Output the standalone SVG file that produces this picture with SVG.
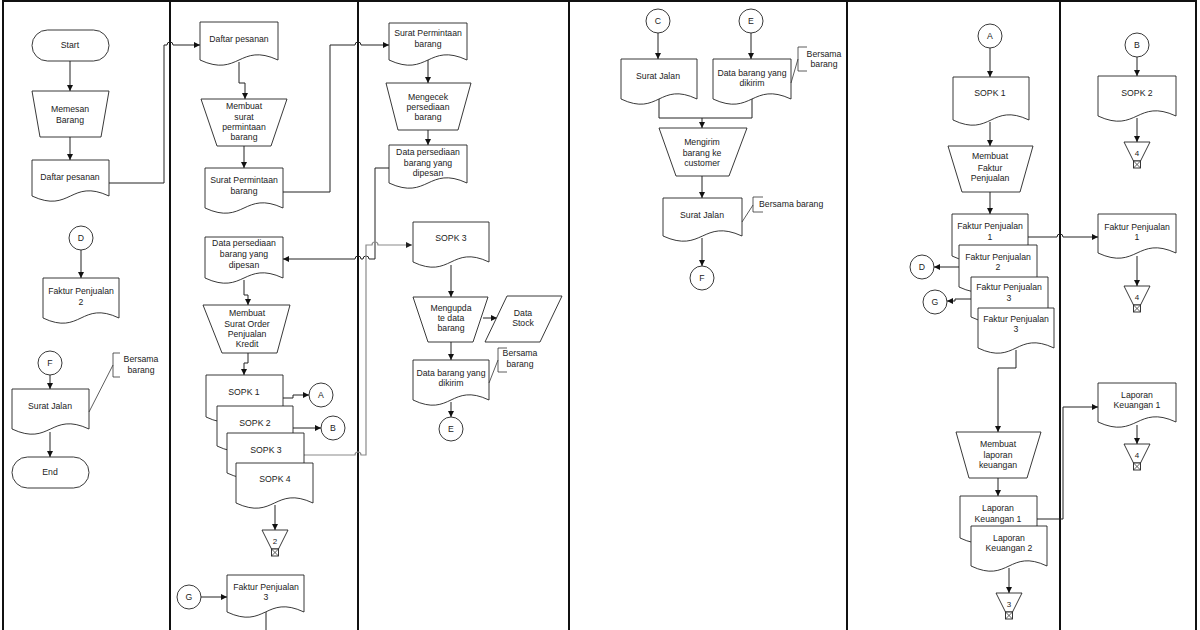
<svg xmlns="http://www.w3.org/2000/svg" width="1200" height="630" viewBox="0 0 1200 630">
<style>
.lane{stroke:#111;stroke-width:2;fill:none}
.sh{fill:#fff;stroke:#222;stroke-width:0.9}
.c{fill:none;stroke:#222;stroke-width:1}
.g{fill:none;stroke:#8a8a8a;stroke-width:1.2}
.a{marker-end:url(#ah)}
.ag{marker-end:url(#ahg)}
.ann{fill:none;stroke:#333;stroke-width:0.8}
text{font-family:"Liberation Sans",Arial,sans-serif;font-size:8.7px;fill:#222;text-anchor:middle;dominant-baseline:central}
.l{text-anchor:start}
.n{font-size:8px}
</style>
<defs>
<marker id="ah" markerUnits="userSpaceOnUse" markerWidth="7" markerHeight="7" refX="6" refY="3" orient="auto"><path d="M0,0 L6,3 L0,6 z" fill="#111"/></marker>
<marker id="ahg" markerUnits="userSpaceOnUse" markerWidth="7" markerHeight="7" refX="6" refY="3" orient="auto"><path d="M0,0 L6,3 L0,6 z" fill="#222"/></marker>
</defs>
<rect width="1200" height="630" fill="#fff"/>
<g id="lanes">
<path class="lane" d="M3,630 V1 H1196 V630 M170,1 V630 M358,1 V630 M569,1 V630 M847,1 V630 M1060,1 V630"/>
</g>
<g id="connectors">
<path class="c a" d="M70,61 V91"/>
<path class="c a" d="M70,137 V160"/>
<path class="c a" d="M109,183 H164 V45 H167 a3,3 0 0 1 6,0 H200"/>
<path class="c a" d="M81,250 V278"/>
<path class="c a" d="M50,375 V389"/>
<path class="c a" d="M50,432 V457"/>
<path class="c a" d="M239,62 V83 H245 V99"/>
<path class="c a" d="M244,146 V168"/>
<path class="c a" d="M283,192 H330 V45 H355 a3,3 0 0 1 6,0 H389"/>
<path class="c a" d="M389,168 H375 V259 H369 a3,3 0 0 0 -6,0 H361 a3,3 0 0 0 -6,0 H283"/>
<path class="g ag" d="M304,455 H355 a3,3 0 0 1 6,0 H366 V245 H372 a3,3 0 0 1 6,0 H412"/>
<path class="c a" d="M244,280 V295 H248 V305"/>
<path class="c a" d="M248,353 V363 H244 V375"/>
<path class="c a" d="M283,398 H293 V395 H309"/>
<path class="c a" d="M293,428 H321"/>
<path class="c a" d="M275,505 V530"/>
<path class="c a" d="M201,597 H227"/>
<path class="c" d="M266,612 V630"/>
<path class="c a" d="M428,60 V83"/>
<path class="c a" d="M428,130 V145"/>
<path class="c a" d="M451,265 V297"/>
<path class="c a" d="M483,318 H497"/>
<path class="c a" d="M451,342 V360"/>
<path class="c a" d="M451,402 V417"/>
<path class="c a" d="M658,33 V59"/>
<path class="c a" d="M751,33 V59"/>
<path class="c" d="M659,98 V118 H752 V98"/>
<path class="c a" d="M702,118 V128"/>
<path class="c a" d="M702,176 V198"/>
<path class="c a" d="M702,238 V266"/>
<path class="c a" d="M990,48 V77"/>
<path class="c a" d="M990,122 V146"/>
<path class="c a" d="M990,192 V214"/>
<path class="c a" d="M1028,237 H1057 a3,3 0 0 1 6,0 H1098"/>
<path class="c a" d="M959,267 H934"/>
<path class="c a" d="M971,299 H955 V301 H947"/>
<path class="c a" d="M1016,350 V368 H998 V432"/>
<path class="c a" d="M998,478 V496"/>
<path class="c a" d="M1009,568 V593"/>
<path class="c a" d="M1037,519 H1063 V407 H1098"/>
<path class="c a" d="M1137,57 V76"/>
<path class="c a" d="M1137,118 V142"/>
<path class="c a" d="M1137,256 V286"/>
<path class="c a" d="M1137,425 V444"/>
</g>
<g id="start"><rect class="sh" x="32" y="30" width="77" height="31" rx="15.5"/><text x="70" y="45">Start</text></g>
<g id="memesan"><polygon class="sh" points="32,91 109,91 101,137 40,137"/><text x="70" y="109">Memesan</text><text x="70" y="120">Barang</text></g>
<g id="daftar1"><path class="sh" d="M32,160 H109 V196 C70.5,178 70.5,214 32,196 Z"/><text x="70" y="177">Daftar pesanan</text></g>
<g id="d1"><circle class="sh" cx="81" cy="238" r="12"/><text x="81" y="238">D</text></g>
<g id="fp2a"><path class="sh" d="M43,278 H119 V318 C81,300 81,336 43,318 Z"/><text x="81" y="291">Faktur Penjualan</text><text x="81" y="302">2</text></g>
<g id="f1"><circle class="sh" cx="50" cy="363" r="12"/><text x="50" y="363">F</text></g>
<g id="sj1"><path class="sh" d="M12,389 H89 V429 C50.5,411 50.5,447 12,429 Z"/><text x="50" y="406">Surat Jalan</text></g>
<g id="ann1"><path class="ann" d="M120,353 H113 V377 H120 M113,365 L89,412"/><text x="141" y="359">Bersama</text><text x="141" y="370">barang</text></g>
<g id="end"><rect class="sh" x="12" y="457" width="77" height="31" rx="15.5"/><text x="50" y="472">End</text></g>

<g id="daftar2"><path class="sh" d="M200,22 H278 V60 C239,42 239,78 200,60 Z"/><text x="239" y="39">Daftar pesanan</text></g>
<g id="membuatsurat"><polygon class="sh" points="201,99 287,99 271,146 217,146"/><text x="244" y="106">Membuat</text><text x="244" y="117">surat</text><text x="244" y="127">permintaan</text><text x="244" y="137">barang</text></g>
<g id="spb2"><path class="sh" d="M205,168 H283 V208 C244,190 244,226 205,208 Z"/><text x="244" y="180">Surat Permintaan</text><text x="244" y="191">barang</text></g>
<g id="dp2"><path class="sh" d="M205,237 H283 V278 C244,260 244,296 205,278 Z"/><text x="244" y="243">Data persediaan</text><text x="244" y="254">barang yang</text><text x="244" y="265">dipesan</text></g>
<g id="membuatsopk"><polygon class="sh" points="203,305 290,305 277,353 222,353"/><text x="247" y="313">Membuat</text><text x="247" y="324">Surat Order</text><text x="247" y="334">Penjualan</text><text x="247" y="344">Kredit</text></g>
<g id="sopk1a"><path class="sh" d="M206,375 H283 V417 C244.5,399 244.5,435 206,417 Z"/><text x="244" y="392">SOPK 1</text></g>
<g id="sopk2a"><path class="sh" d="M217,406 H293 V446 C255,428 255,464 217,446 Z"/><text x="255" y="423">SOPK 2</text></g>
<g id="sopk3a"><path class="sh" d="M227,433 H304 V473 C265.5,455 265.5,491 227,473 Z"/><text x="266" y="450">SOPK 3</text></g>
<g id="sopk4a"><path class="sh" d="M236,463 H313 V503 C274.5,485 274.5,521 236,503 Z"/><text x="275" y="479">SOPK 4</text></g>
<g id="a1"><circle class="sh" cx="321" cy="395" r="12"/><text x="321" y="395">A</text></g>
<g id="b1"><circle class="sh" cx="333" cy="428" r="12"/><text x="333" y="428">B</text></g>
<g id="off2"><polygon class="sh" points="262,530 288,530 278.5,549 271.5,549"/><rect class="sh" x="271.5" y="549" width="7" height="7"/><path class="ann" d="M271.5,549 L278.5,556 M278.5,549 L271.5,556"/><text class="n" x="275" y="541">2</text></g>
<g id="g1"><circle class="sh" cx="189" cy="597" r="12"/><text x="189" y="597">G</text></g>
<g id="fp3a"><path class="sh" d="M227,575 H304 V612 C265.5,594 265.5,630 227,612 Z"/><text x="266" y="587">Faktur Penjualan</text><text x="266" y="597">3</text></g>

<g id="spb3"><path class="sh" d="M389,23 H467 V60 C428,42 428,78 389,60 Z"/><text x="428" y="33">Surat Permintaan</text><text x="428" y="44">barang</text></g>
<g id="mengecek"><polygon class="sh" points="386,83 471,83 458,130 398,130"/><text x="428" y="97">Mengecek</text><text x="428" y="107">persediaan</text><text x="428" y="117">barang</text></g>
<g id="dp3"><path class="sh" d="M389,145 H467 V183 C428,165 428,201 389,183 Z"/><text x="428" y="152">Data persediaan</text><text x="428" y="163">barang yang</text><text x="428" y="173">dipesan</text></g>
<g id="sopk3b"><path class="sh" d="M413,222 H489 V262 C451,244 451,280 413,262 Z"/><text x="451" y="238">SOPK 3</text></g>
<g id="mengupdate"><polygon class="sh" points="413,297 488,297 473,342 428,342"/><text x="451" y="308">Mengupda</text><text x="451" y="318">te data</text><text x="451" y="328">barang</text></g>
<g id="datastock"><polygon class="sh" points="507,296 562,296 540,342 485,342"/><text x="523" y="313">Data</text><text x="523" y="323">Stock</text></g>
<g id="dbk3"><path class="sh" d="M413,360 H489 V400 C451,382 451,418 413,400 Z"/><text x="451" y="373">Data barang yang</text><text x="451" y="383">dikirim</text></g>
<g id="ann3"><path class="ann" d="M507,348 H498 V372 H507 M498,360 L489,383"/><text x="520" y="353">Bersama</text><text x="520" y="364">barang</text></g>
<g id="e1"><circle class="sh" cx="451" cy="429" r="12"/><text x="451" y="429">E</text></g>

<g id="c2"><circle class="sh" cx="658" cy="21" r="12"/><text x="658" y="21">C</text></g>
<g id="e2"><circle class="sh" cx="751" cy="21" r="12"/><text x="751" y="21">E</text></g>
<g id="sj4a"><path class="sh" d="M621,59 H697 V99 C659,81 659,117 621,99 Z"/><text x="658" y="76">Surat Jalan</text></g>
<g id="dbk4"><path class="sh" d="M713,59 H791 V99 C752,81 752,117 713,99 Z"/><text x="752" y="73">Data barang yang</text><text x="752" y="83">dikirim</text></g>
<g id="ann4a"><path class="ann" d="M807,47 H798 V71 H807 M798,59 L791,83"/><text x="824" y="54">Bersama</text><text x="824" y="64">barang</text></g>
<g id="mengirim"><polygon class="sh" points="659,128 747,128 729,176 676,176"/><text x="702" y="142">Mengirim</text><text x="702" y="153">barang ke</text><text x="702" y="163">customer</text></g>
<g id="sj4b"><path class="sh" d="M663,198 H742 V236 C702.5,218 702.5,254 663,236 Z"/><text x="702" y="215">Surat Jalan</text></g>
<g id="ann4b"><path class="ann" d="M763,197 H753 V212 H763 M753,205 L742,222"/><text class="l" x="759" y="204">Bersama barang</text></g>
<g id="f2"><circle class="sh" cx="702" cy="278" r="12"/><text x="702" y="278">F</text></g>

<g id="a2"><circle class="sh" cx="990" cy="36" r="12"/><text x="990" y="36">A</text></g>
<g id="sopk1b"><path class="sh" d="M953,77 H1029 V120 C991,102 991,138 953,120 Z"/><text x="990" y="93">SOPK 1</text></g>
<g id="membuatfaktur"><polygon class="sh" points="948,146 1033,146 1020,192 962,192"/><text x="990" y="156">Membuat</text><text x="990" y="168">Faktur</text><text x="990" y="178">Penjualan</text></g>
<g id="fp1b"><path class="sh" d="M952,214 H1028 V256 C990,238 990,274 952,256 Z"/><text x="990" y="226">Faktur Penjualan</text><text x="990" y="237">1</text></g>
<g id="fp2b"><path class="sh" d="M959,245 H1037 V287 C998,269 998,305 959,287 Z"/><text x="998" y="257">Faktur Penjualan</text><text x="998" y="267">2</text></g>
<g id="fp3b"><path class="sh" d="M971,277 H1048 V317 C1009.5,299 1009.5,335 971,317 Z"/><text x="1009" y="287">Faktur Penjualan</text><text x="1009" y="298">3</text></g>
<g id="fp3c"><path class="sh" d="M978,308 H1054 V348 C1016,330 1016,366 978,348 Z"/><text x="1016" y="319">Faktur Penjualan</text><text x="1016" y="329">3</text></g>
<g id="d2"><circle class="sh" cx="922" cy="267" r="12"/><text x="922" y="267">D</text></g>
<g id="g2"><circle class="sh" cx="935" cy="302" r="12"/><text x="935" y="302">G</text></g>
<g id="membuatlaporan"><polygon class="sh" points="956,432 1041,432 1027,478 969,478"/><text x="998" y="444">Membuat</text><text x="998" y="455">laporan</text><text x="998" y="465">keuangan</text></g>
<g id="lk1a"><path class="sh" d="M960,496 H1037 V538 C998.5,520 998.5,556 960,538 Z"/><text x="998" y="508">Laporan</text><text x="998" y="519">Keuangan 1</text></g>
<g id="lk2"><path class="sh" d="M971,526 H1047 V566 C1009,548 1009,584 971,566 Z"/><text x="1009" y="538">Laporan</text><text x="1009" y="548">Keuangan 2</text></g>
<g id="off3"><polygon class="sh" points="996,593 1022,593 1012.5,612 1005.5,612"/><rect class="sh" x="1005.5" y="612" width="7" height="7"/><path class="ann" d="M1005.5,612 L1012.5,619 M1012.5,612 L1005.5,619"/><text class="n" x="1009" y="604">3</text></g>

<g id="b2"><circle class="sh" cx="1137" cy="45" r="12"/><text x="1137" y="45">B</text></g>
<g id="sopk2b"><path class="sh" d="M1098,76 H1176 V116 C1137,98 1137,134 1098,116 Z"/><text x="1137" y="93">SOPK 2</text></g>
<g id="off4a"><polygon class="sh" points="1124,142 1150,142 1140.5,161 1133.5,161"/><rect class="sh" x="1133.5" y="161" width="7" height="7"/><path class="ann" d="M1133.5,161 L1140.5,168 M1140.5,161 L1133.5,168"/><text class="n" x="1137" y="153">4</text></g>
<g id="fp1c"><path class="sh" d="M1098,214 H1176 V253 C1137,235 1137,271 1098,253 Z"/><text x="1137" y="227">Faktur Penjualan</text><text x="1137" y="237">1</text></g>
<g id="off4b"><polygon class="sh" points="1124,286 1150,286 1140.5,305 1133.5,305"/><rect class="sh" x="1133.5" y="305" width="7" height="7"/><path class="ann" d="M1133.5,305 L1140.5,312 M1140.5,305 L1133.5,312"/><text class="n" x="1137" y="297">4</text></g>
<g id="lk1b"><path class="sh" d="M1098,383 H1176 V422 C1137,404 1137,440 1098,422 Z"/><text x="1137" y="395">Laporan</text><text x="1137" y="405">Keuangan 1</text></g>
<g id="off4c"><polygon class="sh" points="1124,444 1150,444 1140.5,463 1133.5,463"/><rect class="sh" x="1133.5" y="463" width="7" height="7"/><path class="ann" d="M1133.5,463 L1140.5,470 M1140.5,463 L1133.5,470"/><text class="n" x="1137" y="455">4</text></g>
</svg>
